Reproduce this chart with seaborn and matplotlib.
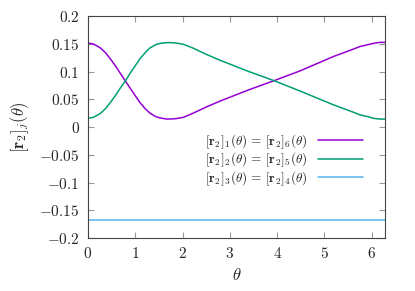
import matplotlib
matplotlib.use("Agg")
import matplotlib.pyplot as plt
import seaborn as sns
import numpy as np
import pandas as pd

# values
theta = [0.0, 0.1, 0.17, 0.27, 0.38, 0.48, 0.59, 0.69, 0.79, 0.9, 1.02, 1.1,
         1.21, 1.31, 1.45, 1.55, 1.66, 1.75, 1.85, 2.02, 2.2, 2.35, 2.5,
         2.8, 3.4, 3.95, 4.48, 5.19, 5.6, 5.75, 5.9, 6.05, 6.18, 6.283]
r1 = [0.151, 0.150, 0.147, 0.142, 0.133, 0.122, 0.109, 0.096, 0.083, 0.069, 0.054, 0.044,
      0.033, 0.025, 0.018, 0.016, 0.0144, 0.0145, 0.015, 0.0175, 0.024, 0.030, 0.036,
      0.047, 0.067, 0.084, 0.101, 0.127, 0.140, 0.145, 0.148, 0.151, 0.1525, 0.1525]
r2 = [0.016, 0.017, 0.020, 0.025, 0.034, 0.045, 0.058, 0.071, 0.083, 0.098, 0.113, 0.123,
      0.134, 0.1425, 0.149, 0.151, 0.152, 0.152, 0.1515, 0.149, 0.143, 0.137, 0.131,
      0.120, 0.100, 0.083, 0.065, 0.040, 0.027, 0.022, 0.019, 0.0155, 0.0144, 0.0142]
r3 = [-0.1667] * len(theta)

labels = [r"$[\mathbf{r}_2]_1(\theta)\,=\,[\mathbf{r}_2]_6(\theta)$",
          r"$[\mathbf{r}_2]_2(\theta)\,=\,[\mathbf{r}_2]_5(\theta)$",
          r"$[\mathbf{r}_2]_3(\theta)\,=\,[\mathbf{r}_2]_4(\theta)$"]
colors = ["#9400d3", "#009e73", "#56b4e9"]

sns.set_style("ticks")
plt.rcParams["font.family"] = "serif"
plt.rcParams["font.serif"] = ["cmr10", "DejaVu Serif"]
plt.rcParams["mathtext.fontset"] = "cm"
plt.rcParams["axes.formatter.use_mathtext"] = True

fig = plt.figure(figsize=(4.15, 2.91), dpi=100)
ax = fig.add_axes([0.212, 0.182, 0.716, 0.763])

for ys, lab, c in zip([r1, r2, r3], labels, colors):
    df = pd.DataFrame({"theta": theta, "r": ys})
    sns.lineplot(data=df, x="theta", y="r", ax=ax, color=c, lw=1.1, label=lab)

ax.set_xlim(0, 2 * np.pi)
ax.set_ylim(-0.2, 0.2)
ax.set_xticks(range(0, 7))
yt = [-0.2, -0.15, -0.1, -0.05, 0, 0.05, 0.1, 0.15, 0.2]
ax.set_yticks(yt)
ax.set_xticklabels([f"${v}$" for v in range(0, 7)])
ax.set_yticklabels([f"${v:g}$" for v in yt])
ax.tick_params(direction="in", length=4, width=0.8, color="#999999",
               top=True, right=True, labelsize=11, pad=6)
for s in ax.spines.values():
    s.set_color("#444444")
    s.set_linewidth(0.8)

ax.set_xlabel(r"$\theta$", fontsize=12, labelpad=4)
ax.set_ylabel(r"$[\mathbf{r}_2]_j(\theta)$", fontsize=12, labelpad=6)

ax.legend(loc="center right", bbox_to_anchor=(0.925, 0.352), frameon=False,
          markerfirst=False, fontsize=9.5, handlelength=3.4, handletextpad=0.8,
          labelspacing=0.0, borderaxespad=0, borderpad=0)

fig.savefig("out.png", dpi=100)
